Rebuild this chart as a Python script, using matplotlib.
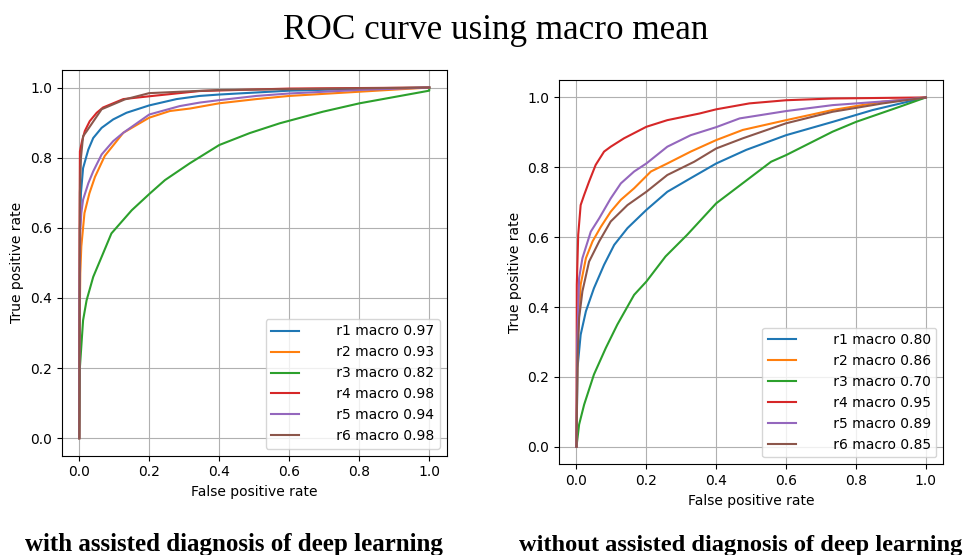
import numpy as np
import matplotlib
matplotlib.use("Agg")
import matplotlib.pyplot as plt

# ROC points: with assisted diagnosis (left panel)
left_r1_fpr = [0, 0.002, 0.005, 0.011, 0.026, 0.04, 0.064, 0.097, 0.135, 0.2, 0.278, 0.344, 0.4, 0.6, 0.8, 1.0]
left_r1_tpr = [0, 0.6, 0.7, 0.77, 0.823, 0.856, 0.885, 0.909, 0.928, 0.949, 0.967, 0.976, 0.98, 0.991, 0.996, 1.0]
left_r2_fpr = [0, 0.001, 0.003, 0.006, 0.015, 0.029, 0.045, 0.073, 0.126, 0.2, 0.259, 0.316, 0.4, 0.506, 0.6, 0.8, 1.0]
left_r2_tpr = [0, 0.3, 0.47, 0.547, 0.642, 0.698, 0.745, 0.805, 0.871, 0.914, 0.933, 0.94, 0.955, 0.967, 0.976, 0.988, 1.0]
left_r3_fpr = [0, 0.002, 0.011, 0.021, 0.04, 0.064, 0.092, 0.15, 0.202, 0.245, 0.316, 0.4, 0.487, 0.573, 0.696, 0.801, 0.906, 1.0, 1.0]
left_r3_tpr = [0, 0.203, 0.336, 0.393, 0.46, 0.517, 0.584, 0.65, 0.698, 0.736, 0.784, 0.836, 0.87, 0.898, 0.931, 0.955, 0.974, 0.991, 1.0]
left_r4_fpr = [0, 0.001, 0.002, 0.008, 0.016, 0.03, 0.05, 0.068, 0.126, 0.2, 0.344, 0.6, 1.0]
left_r4_tpr = [0, 0.6, 0.818, 0.847, 0.876, 0.904, 0.928, 0.943, 0.967, 0.975, 0.99, 0.997, 1.0]
left_r5_fpr = [0, 0.001, 0.003, 0.006, 0.011, 0.026, 0.04, 0.064, 0.097, 0.126, 0.2, 0.287, 0.344, 0.4, 0.506, 0.6, 0.8, 1.0]
left_r5_tpr = [0, 0.4, 0.59, 0.642, 0.68, 0.727, 0.761, 0.809, 0.847, 0.871, 0.923, 0.947, 0.957, 0.964, 0.976, 0.983, 0.993, 1.0]
left_r6_fpr = [0, 0.002, 0.005, 0.011, 0.021, 0.064, 0.097, 0.13, 0.2, 0.4, 1.0]
left_r6_tpr = [0, 0.7, 0.8, 0.861, 0.875, 0.938, 0.952, 0.966, 0.984, 0.993, 1.0]
left_auc = [0.97, 0.93, 0.82, 0.98, 0.94, 0.98]

# without assisted diagnosis (right panel)
right_r1_fpr = [0, 0.003, 0.012, 0.027, 0.05, 0.079, 0.108, 0.146, 0.2, 0.26, 0.327, 0.4, 0.486, 0.6, 0.733, 0.848, 1.0]
right_r1_tpr = [0, 0.226, 0.321, 0.388, 0.454, 0.521, 0.578, 0.626, 0.678, 0.73, 0.769, 0.811, 0.85, 0.892, 0.93, 0.964, 1.0]
right_r2_fpr = [0, 0.003, 0.012, 0.027, 0.046, 0.07, 0.098, 0.127, 0.165, 0.213, 0.26, 0.327, 0.4, 0.476, 0.6, 0.733, 0.877, 1.0]
right_r2_tpr = [0, 0.3, 0.464, 0.54, 0.588, 0.63, 0.673, 0.707, 0.74, 0.788, 0.811, 0.845, 0.878, 0.907, 0.935, 0.964, 0.988, 1.0]
right_r3_fpr = [0, 0.0076, 0.022, 0.05, 0.084, 0.117, 0.165, 0.2, 0.255, 0.317, 0.4, 0.495, 0.557, 0.6, 0.733, 0.8, 0.924, 1.0]
right_r3_tpr = [0, 0.064, 0.121, 0.207, 0.283, 0.35, 0.435, 0.473, 0.545, 0.607, 0.697, 0.769, 0.816, 0.835, 0.902, 0.93, 0.973, 1.0]
right_r4_fpr = [0, 0.001, 0.005, 0.012, 0.022, 0.036, 0.055, 0.079, 0.098, 0.136, 0.2, 0.26, 0.352, 0.4, 0.495, 0.6, 0.733, 1.0]
right_r4_tpr = [0, 0.464, 0.607, 0.692, 0.721, 0.759, 0.807, 0.845, 0.859, 0.883, 0.916, 0.935, 0.954, 0.966, 0.983, 0.992, 0.997, 1.0]
right_r5_fpr = [0, 0.002, 0.0076, 0.017, 0.041, 0.065, 0.098, 0.127, 0.165, 0.2, 0.26, 0.327, 0.4, 0.467, 0.6, 0.733, 0.924, 1.0]
right_r5_tpr = [0, 0.3, 0.483, 0.54, 0.616, 0.654, 0.711, 0.754, 0.788, 0.811, 0.859, 0.892, 0.915, 0.94, 0.961, 0.978, 0.992, 1.0]
right_r6_fpr = [0, 0.003, 0.0076, 0.017, 0.036, 0.065, 0.098, 0.146, 0.2, 0.26, 0.337, 0.4, 0.476, 0.6, 0.733, 0.877, 1.0]
right_r6_tpr = [0, 0.25, 0.369, 0.445, 0.53, 0.588, 0.645, 0.692, 0.73, 0.778, 0.816, 0.854, 0.883, 0.926, 0.959, 0.983, 1.0]
right_auc = [0.80, 0.86, 0.70, 0.95, 0.89, 0.85]

names = ["r1", "r2", "r3", "r4", "r5", "r6"]

left_curves = [(left_r1_fpr, left_r1_tpr), (left_r2_fpr, left_r2_tpr), (left_r3_fpr, left_r3_tpr),
               (left_r4_fpr, left_r4_tpr), (left_r5_fpr, left_r5_tpr), (left_r6_fpr, left_r6_tpr)]
right_curves = [(right_r1_fpr, right_r1_tpr), (right_r2_fpr, right_r2_tpr), (right_r3_fpr, right_r3_tpr),
                (right_r4_fpr, right_r4_tpr), (right_r5_fpr, right_r5_tpr), (right_r6_fpr, right_r6_tpr)]

fig = plt.figure(figsize=(9.72, 5.55), dpi=100)
ax1 = fig.add_axes([0.0635, 0.1789, 0.3961, 0.6950])
ax2 = fig.add_axes([0.5751, 0.1634, 0.3954, 0.6925])


def draw_panel(ax, curves, aucs):
    for name, (fpr, tpr), auc in zip(names, curves, aucs):
        label = f"{name} macro {auc:.2f}".rjust(19)
        ax.plot(fpr, tpr, lw=1.5, label=label)
    ax.set_xlabel("False positive rate")
    ax.set_ylabel("True positive rate")
    ax.grid(True)
    ax.legend(loc="lower right")


draw_panel(ax1, left_curves, left_auc)
draw_panel(ax2, right_curves, right_auc)

# title and captions in serif
fig.text(0.5098, 0.945, "ROC curve using macro mean", ha="center", va="center",
         family="Liberation Serif", fontsize=25.3)
fig.text(0.2407, 1 - 551 / 555, "with assisted diagnosis of deep learning", ha="center", va="baseline",
         family="Liberation Serif", fontweight="bold", fontsize=18)
fig.text(0.7618, 1 - 551 / 555, "without assisted diagnosis of deep learning", ha="center", va="baseline",
         family="Liberation Serif", fontweight="bold", fontsize=17.6)

fig.savefig("out.png", dpi=100)
